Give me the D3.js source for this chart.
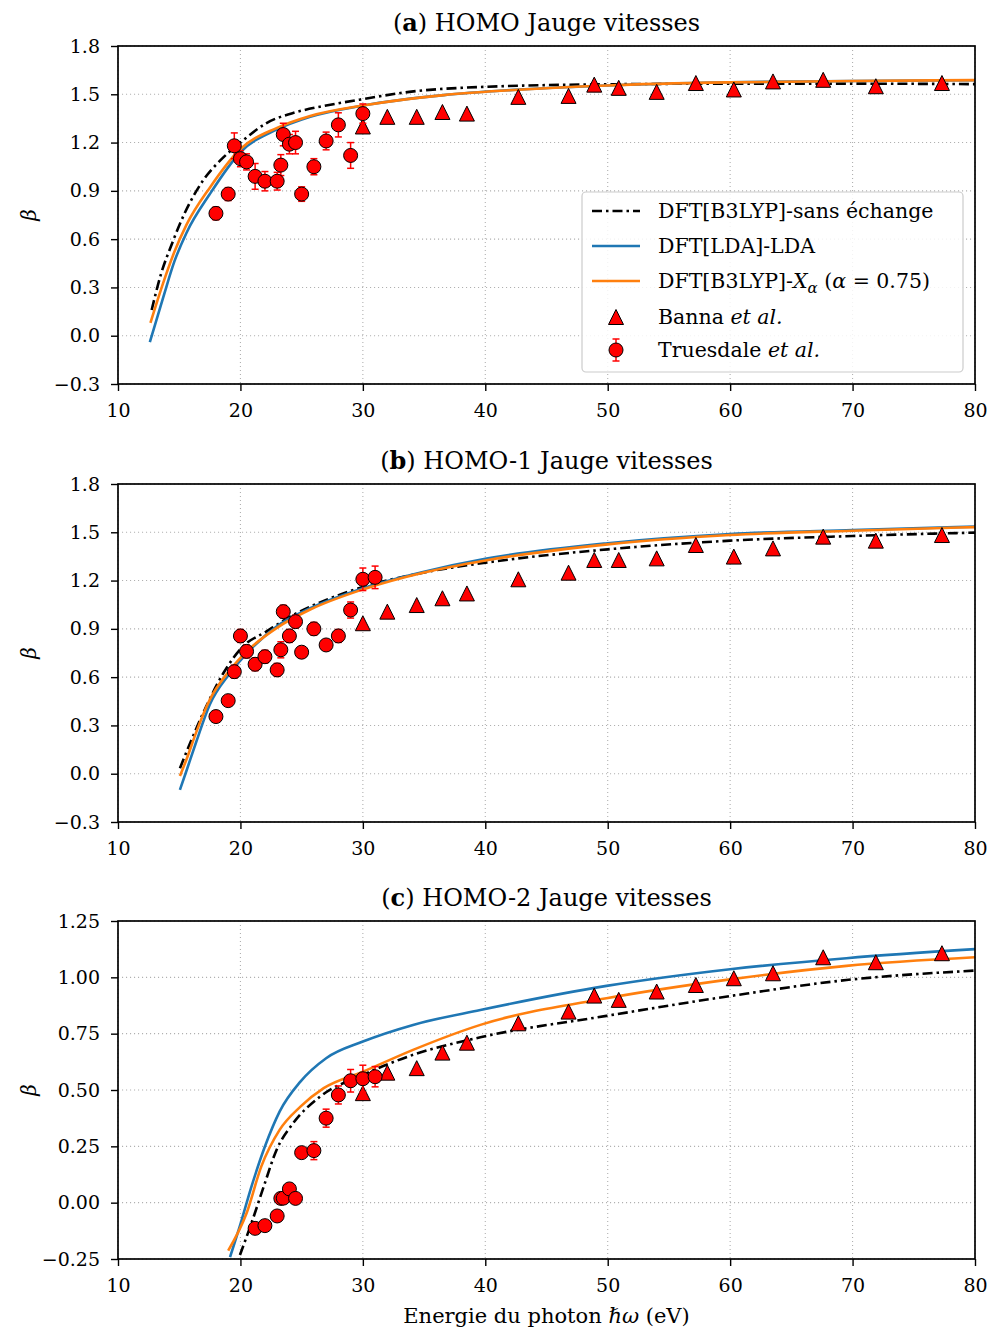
<!DOCTYPE html>
<html><head><meta charset="utf-8">
<script src="https://cdn.jsdelivr.net/npm/d3@7"></script>
<style>body{margin:0;background:#fff} svg{display:block}</style>
</head><body><svg id="c" width="989" height="1328"></svg>
<script>
// ---------- data ----------
const xTicks = [10, 20, 30, 40, 50, 60, 70, 80];
const yTicksAB = [-0.3, 0.0, 0.3, 0.6, 0.9, 1.2, 1.5, 1.8];
const yTicksC = [-0.25, 0.0, 0.25, 0.5, 0.75, 1.0, 1.25];
const titles = [["a", " HOMO Jauge vitesses"], ["b", " HOMO-1 Jauge vitesses"], ["c", " HOMO-2 Jauge vitesses"]];

// Banna et al. (triangles)
const bannaE = [30.0, 32.0, 34.4, 36.5, 38.5, 42.7, 46.8, 48.9, 50.9, 54.0, 57.2, 60.3, 63.5, 67.6, 71.9, 77.3];
const bannaA = [1.30, 1.36, 1.36, 1.39, 1.38, 1.484, 1.49, 1.56, 1.54, 1.515, 1.57, 1.53, 1.58, 1.59, 1.55, 1.57];
const bannaB = [0.935, 1.007, 1.048, 1.09, 1.12, 1.208, 1.249, 1.328, 1.328, 1.338, 1.421, 1.349, 1.40, 1.473, 1.448, 1.483];
const bannaC = [0.486, 0.577, 0.597, 0.666, 0.71, 0.796, 0.848, 0.919, 0.90, 0.937, 0.966, 0.996, 1.018, 1.089, 1.067, 1.107];

// Truesdale et al. (circles with error bars)
const truesE_A = [18.0, 19.0, 19.5, 20.0, 20.5, 21.2, 22.0, 23.0, 23.3, 23.5, 24.0, 24.5, 25.0, 26.0, 27.0, 28.0, 29.0, 30.0];
const truesA = [0.76, 0.88, 1.18, 1.10, 1.08, 0.99, 0.96, 0.96, 1.06, 1.25, 1.19, 1.20, 0.88, 1.05, 1.21, 1.31, 1.12, 1.38];
const truesErrA = [0.04, 0.04, 0.08, 0.05, 0.05, 0.08, 0.06, 0.055, 0.065, 0.07, 0.06, 0.07, 0.045, 0.05, 0.055, 0.075, 0.08, 0.06];
const truesE_B = [18.0, 19.0, 19.5, 20.0, 20.5, 21.2, 22.0, 23.0, 23.3, 23.5, 24.0, 24.5, 25.0, 26.0, 27.0, 28.0, 29.0, 30.0, 31.0];
const truesB = [0.355, 0.454, 0.634, 0.856, 0.76, 0.68, 0.727, 0.645, 0.77, 1.007, 0.856, 0.945, 0.755, 0.90, 0.80, 0.856, 1.017, 1.208, 1.22];
const truesErrB = [0.01, 0.01, 0.04, 0.04, 0.04, 0.04, 0.04, 0.04, 0.05, 0.04, 0.04, 0.04, 0.03, 0.04, 0.03, 0.04, 0.05, 0.07, 0.07];
const truesE_C = [21.2, 22.0, 23.0, 23.3, 23.5, 24.0, 24.5, 25.0, 26.0, 27.0, 28.0, 29.0, 30.0, 31.0];
const truesC = [-0.114, -0.102, -0.059, 0.019, 0.02, 0.061, 0.019, 0.222, 0.231, 0.375, 0.478, 0.541, 0.55, 0.559];
const truesErrC = [0.01, 0.01, 0.01, 0.01, 0.01, 0.01, 0.01, 0.01, 0.04, 0.04, 0.04, 0.05, 0.06, 0.045];

// Theory curves
const sxE_A = [12.75, 13.5, 14.4, 15.5, 17.0, 18.5, 20.0, 22.1, 24.6, 27.0, 30.0, 33.8, 39.5, 50, 60, 70, 80];
const sxA   = [0.16, 0.38, 0.57, 0.77, 0.97, 1.10, 1.20, 1.32, 1.39, 1.43, 1.47, 1.515, 1.545, 1.562, 1.566, 1.566, 1.563];
const ldaE_A = [12.6, 13.7, 14.6, 15.6, 17.5, 20.0, 22.95, 25.7, 30, 36.6, 42, 50, 60, 70, 80];
const ldaA   = [-0.04, 0.24, 0.46, 0.64, 0.88, 1.14, 1.28, 1.36, 1.43, 1.495, 1.526, 1.555, 1.575, 1.583, 1.587];
const xaE_A = [12.65, 13.7, 14.6, 15.6, 17.5, 20.0, 22.95, 25.7, 30, 36.6, 42, 50, 60, 70, 80];
const xaA   = [0.08, 0.33, 0.52, 0.69, 0.92, 1.16, 1.29, 1.365, 1.43, 1.495, 1.525, 1.555, 1.574, 1.583, 1.588];

const sxE_B = [15.06, 16.0, 17.2, 18.6, 20.2, 22.1, 24.3, 27.0, 30, 35, 40, 50, 60, 70, 80];
const sxB   = [0.034, 0.21, 0.417, 0.624, 0.79, 0.883, 0.986, 1.08, 1.16, 1.25, 1.311, 1.394, 1.448, 1.477, 1.498];
const ldaE_B = [15.06, 15.6, 16.4, 17.5, 19.1, 20.8, 22.95, 25.7, 30, 35, 40, 50, 60, 70, 80];
const ldaB   = [-0.10, 0.02, 0.20, 0.43, 0.62, 0.77, 0.914, 1.028, 1.152, 1.255, 1.335, 1.432, 1.489, 1.514, 1.535];
const xaE_B = [15.06, 15.6, 16.4, 17.5, 19.1, 20.8, 22.95, 25.7, 30, 35, 40, 50, 60, 70, 80];
const xaB   = [-0.014, 0.09, 0.26, 0.46, 0.64, 0.78, 0.905, 1.02, 1.145, 1.25, 1.325, 1.425, 1.483, 1.51, 1.532];

const sxE_C = [19.96, 20.9, 21.9, 22.95, 24.3, 26.5, 30, 34.1, 39.6, 49.9, 60, 69.5, 80];
const sxC   = [-0.232, -0.091, 0.071, 0.234, 0.352, 0.47, 0.567, 0.656, 0.734, 0.829, 0.917, 0.988, 1.03];
const ldaE_C = [19.15, 20.1, 20.9, 22.0, 23.2, 24.9, 27.0, 30, 34.1, 39.6, 49.9, 60, 69.5, 80];
const ldaC   = [-0.242, -0.077, 0.071, 0.249, 0.404, 0.537, 0.641, 0.715, 0.789, 0.855, 0.962, 1.036, 1.085, 1.125];
const xaE_C = [19.0, 20.5, 21.7, 23.2, 24.9, 26.8, 30, 34.1, 39.6, 49.9, 60, 69.5, 80];
const xaC   = [-0.213, -0.047, 0.16, 0.323, 0.426, 0.508, 0.581, 0.678, 0.789, 0.907, 0.991, 1.051, 1.089];

// ---------- layout ----------
const FONT = "'DejaVu Serif', 'Liberation Serif', serif";
const svg = d3.select("#c");
const L = 118, R = 975, H = 338;
const tops = [46, 484, 921];
const colBlue = "#1f77b4", colOrange = "#ff7f0e";
const zip = (xs, ys) => xs.map((x, i) => [x, ys[i]]);

const panels = [
  {yDom: [-0.3, 1.8], yTicks: yTicksAB, fmt: d3.format(".1f"),
   sx: zip(sxE_A, sxA), lda: zip(ldaE_A, ldaA), xa: zip(xaE_A, xaA),
   tri: zip(bannaE, bannaA), circ: truesE_A.map((e, i) => [e, truesA[i], truesErrA[i]])},
  {yDom: [-0.3, 1.8], yTicks: yTicksAB, fmt: d3.format(".1f"),
   sx: zip(sxE_B, sxB), lda: zip(ldaE_B, ldaB), xa: zip(xaE_B, xaB),
   tri: zip(bannaE, bannaB), circ: truesE_B.map((e, i) => [e, truesB[i], truesErrB[i]])},
  {yDom: [-0.25, 1.25], yTicks: yTicksC, fmt: d3.format(".2f"),
   sx: zip(sxE_C, sxC), lda: zip(ldaE_C, ldaC), xa: zip(xaE_C, xaC),
   tri: zip(bannaE, bannaC), circ: truesE_C.map((e, i) => [e, truesC[i], truesErrC[i]])}
];

const x = d3.scaleLinear().domain([10, 80]).range([L, R]);
const triPath = "M0,-7.5L7.5,7.5L-7.5,7.5Z";

panels.forEach((p, k) => {
  const T = tops[k];
  const y = d3.scaleLinear().domain(p.yDom).range([T + H, T]);
  const g = svg.append("g");
  const clipId = "clip" + k;
  svg.append("clipPath").attr("id", clipId).append("rect")
    .attr("x", L).attr("y", T).attr("width", R - L).attr("height", H);

  // grid
  const grid = g.append("g").attr("stroke", "#b0b0b0").attr("stroke-width", 1.1).attr("stroke-dasharray", "1.1,2.9");
  xTicks.forEach(t => grid.append("line").attr("x1", x(t)).attr("x2", x(t)).attr("y1", T).attr("y2", T + H));
  p.yTicks.forEach(t => grid.append("line").attr("x1", L).attr("x2", R).attr("y1", y(t)).attr("y2", y(t)));

  // axes
  const xa = g.append("g").attr("transform", `translate(0,${T + H})`)
    .call(d3.axisBottom(x).tickValues(xTicks).tickSize(7).tickPadding(13).tickFormat(d3.format("d")));
  const ya = g.append("g").attr("transform", `translate(${L},0)`)
    .call(d3.axisLeft(y).tickValues(p.yTicks).tickSize(7).tickPadding(11).tickFormat(p.fmt));
  [xa, ya].forEach(a => {
    a.select(".domain").remove();
    a.selectAll(".tick line").attr("stroke", "#000").attr("stroke-width", 1.4);
    a.selectAll(".tick text").attr("font-family", FONT).attr("font-size", 19).attr("fill", "#000");
  });

  // curves
  const line = d3.line().x(d => x(d[0])).y(d => y(d[1])).curve(d3.curveMonotoneX);
  const cg = g.append("g").attr("clip-path", `url(#${clipId})`).attr("fill", "none");
  cg.append("path").attr("d", line(p.sx)).attr("stroke", "#000").attr("stroke-width", 2.6)
    .attr("stroke-dasharray", "10,4,2.5,4");
  cg.append("path").attr("d", line(p.lda)).attr("stroke", colBlue).attr("stroke-width", 2.6);
  cg.append("path").attr("d", line(p.xa)).attr("stroke", colOrange).attr("stroke-width", 2.6);

  // triangles
  g.append("g").selectAll("path").data(p.tri).join("path")
    .attr("d", triPath).attr("transform", d => `translate(${x(d[0])},${y(d[1])})`)
    .attr("fill", "#ff0000").attr("stroke", "#000").attr("stroke-width", 1);

  // error bars + circles
  const eb = g.append("g").attr("stroke", "#ff0000").attr("stroke-width", 1.5);
  p.circ.forEach(d => {
    const cx = x(d[0]), y1 = y(d[1] - d[2]), y2 = y(d[1] + d[2]);
    eb.append("line").attr("x1", cx).attr("x2", cx).attr("y1", y1).attr("y2", y2);
    eb.append("line").attr("x1", cx - 3.5).attr("x2", cx + 3.5).attr("y1", y1).attr("y2", y1);
    eb.append("line").attr("x1", cx - 3.5).attr("x2", cx + 3.5).attr("y1", y2).attr("y2", y2);
  });
  g.append("g").selectAll("circle").data(p.circ).join("circle")
    .attr("cx", d => x(d[0])).attr("cy", d => y(d[1])).attr("r", 7)
    .attr("fill", "#ff0000").attr("stroke", "#000").attr("stroke-width", 1);

  // frame
  g.append("rect").attr("x", L).attr("y", T).attr("width", R - L).attr("height", H)
    .attr("fill", "none").attr("stroke", "#000").attr("stroke-width", 1.7);

  // title
  const tt = svg.append("text").attr("x", (L + R) / 2).attr("y", T - 15).attr("text-anchor", "middle")
    .attr("font-family", FONT).attr("font-size", 24);
  tt.append("tspan").text("(");
  tt.append("tspan").attr("font-weight", "bold").text(titles[k][0]);
  tt.append("tspan").text(")" + titles[k][1]);

  // y label
  svg.append("text").attr("transform", `translate(36,${T + H / 2}) rotate(-90)`)
    .attr("text-anchor", "middle").attr("font-family", FONT).attr("font-style", "italic")
    .attr("font-size", 20).text("β");
});

// x label
const xl = svg.append("text").attr("x", (L + R) / 2).attr("y", 1323).attr("text-anchor", "middle")
  .attr("font-family", FONT).attr("font-size", 21);
xl.append("tspan").text("Energie du photon ");
xl.append("tspan").attr("font-style", "italic").text("ℏω");
xl.append("tspan").text(" (eV)");

// legend
const lg = svg.append("g");
lg.append("rect").attr("x", 582).attr("y", 192).attr("width", 381).attr("height", 180).attr("rx", 4)
  .attr("fill", "#fff").attr("fill-opacity", 0.85).attr("stroke", "#cccccc").attr("stroke-width", 1.2);
const ly = [211, 246, 281, 317, 350];
lg.append("line").attr("x1", 592).attr("x2", 640).attr("y1", ly[0]).attr("y2", ly[0])
  .attr("stroke", "#000").attr("stroke-width", 2.6).attr("stroke-dasharray", "10,4,2.5,4");
lg.append("line").attr("x1", 592).attr("x2", 640).attr("y1", ly[1]).attr("y2", ly[1])
  .attr("stroke", colBlue).attr("stroke-width", 2.6);
lg.append("line").attr("x1", 592).attr("x2", 640).attr("y1", ly[2]).attr("y2", ly[2])
  .attr("stroke", colOrange).attr("stroke-width", 2.6);
lg.append("path").attr("d", triPath).attr("transform", `translate(616,${ly[3]})`)
  .attr("fill", "#ff0000").attr("stroke", "#000");
lg.append("line").attr("x1", 616).attr("x2", 616).attr("y1", ly[4] - 11).attr("y2", ly[4] + 11)
  .attr("stroke", "#ff0000").attr("stroke-width", 1.5);
[ly[4] - 11, ly[4] + 11].forEach(yy => lg.append("line").attr("x1", 612.5).attr("x2", 619.5)
  .attr("y1", yy).attr("y2", yy).attr("stroke", "#ff0000").attr("stroke-width", 1.5));
lg.append("circle").attr("cx", 616).attr("cy", ly[4]).attr("r", 7).attr("fill", "#ff0000").attr("stroke", "#000");

const lt = (i) => lg.append("text").attr("x", 658).attr("y", ly[i] + 7)
  .attr("font-family", FONT).attr("font-size", 20.5);
lt(0).text("DFT[B3LYP]-sans échange");
lt(1).text("DFT[LDA]-LDA");
const t2 = lt(2);
t2.append("tspan").text("DFT[B3LYP]-");
t2.append("tspan").attr("font-style", "italic").text("X");
t2.append("tspan").attr("font-style", "italic").attr("font-size", 15).attr("dy", 5).text("α");
t2.append("tspan").attr("dy", -5).text(" (");
t2.append("tspan").attr("font-style", "italic").text("α");
t2.append("tspan").text(" = 0.75)");
const t3 = lt(3);
t3.append("tspan").text("Banna ");
t3.append("tspan").attr("font-style", "italic").text("et al.");
const t4 = lt(4);
t4.append("tspan").text("Truesdale ");
t4.append("tspan").attr("font-style", "italic").text("et al.");
</script>
</body></html>
